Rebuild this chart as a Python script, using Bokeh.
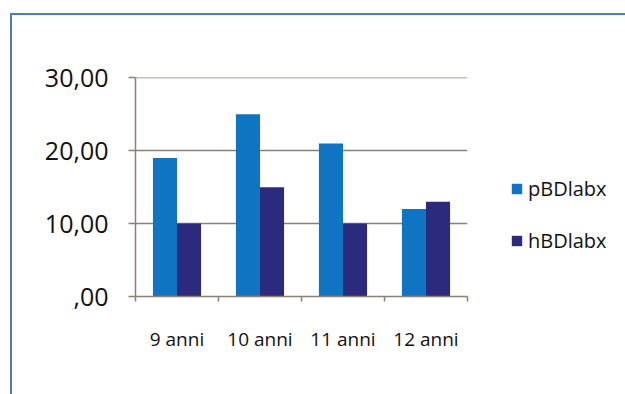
from bokeh.plotting import figure
from bokeh.layouts import row
from bokeh.models import Range1d, FixedTicker, Legend, LegendItem
from bokeh.embed import file_html
from bokeh.resources import INLINE

categories = ["9 anni", "10 anni", "11 anni", "12 anni"]
series_names = ["pBDlabx", "hBDlabx"]
pBDlabx = [19, 25, 21, 12]
hBDlabx = [10, 15, 10, 13]
y_ticks = [0, 10, 20, 30]
y_tick_labels = [",00", "10,00", "20,00", "30,00"]

FONT = "Open Sans"
GRID = "#8c7f78"
C1 = "#0f74c2"
C2 = "#2c2a7c"
TXT = "#111111"

p = figure(width=460, height=379, output_backend="svg", toolbar_location=None,
           x_range=Range1d(0, len(categories)), y_range=Range1d(0, 30.05),
           min_border_left=123, min_border_right=5, min_border_top=62, min_border_bottom=98)
p.outline_line_color = None
p.border_fill_color = "white"

centers = [i + 0.5 for i in range(len(categories))]
bw = 0.29
p.vbar(x=[c - bw / 2 for c in centers], top=pBDlabx, width=bw, fill_color=C1, line_color=None)
p.vbar(x=[c + bw / 2 for c in centers], top=hBDlabx, width=bw, fill_color=C2, line_color=None)

# x axis
xa = p.xaxis[0]
xa.ticker = FixedTicker(ticks=centers, minor_ticks=list(range(len(categories) + 1)))
xa.major_label_overrides = {c: lab for c, lab in zip(centers, categories)}
xa.major_tick_line_color = None
xa.minor_tick_line_color = GRID
xa.minor_tick_line_width = 1.5
xa.minor_tick_out = 5
xa.minor_tick_in = 0
xa.axis_line_color = GRID
xa.axis_line_width = 1.5
xa.major_label_text_font = FONT
xa.major_label_text_font_size = "19px"
xa.major_label_text_color = TXT
xa.major_label_standoff = 23

# y axis
ya = p.yaxis[0]
ya.ticker = FixedTicker(ticks=y_ticks)
ya.major_label_overrides = {t: lab for t, lab in zip(y_ticks, y_tick_labels)}
ya.major_tick_line_color = GRID
ya.major_tick_line_width = 1.5
ya.major_tick_out = 7
ya.major_tick_in = 0
ya.minor_tick_line_color = None
ya.axis_line_color = GRID
ya.axis_line_width = 1.5
ya.major_label_text_font = FONT
ya.major_label_text_font_size = "25px"
ya.major_label_text_color = TXT
ya.major_label_standoff = 20

p.xgrid.grid_line_color = None
p.ygrid.grid_line_color = GRID
p.ygrid.grid_line_width = 1.5

# legend panel (its frame is aligned with the chart's frame by the row layout)
pl = figure(width=153, height=379, output_backend="svg", toolbar_location=None,
            x_range=Range1d(0, 1), y_range=Range1d(0, 1),
            x_axis_type=None, y_axis_type=None,
            min_border_left=0, min_border_right=0, min_border_top=0, min_border_bottom=0)
pl.outline_line_color = None
pl.grid.grid_line_color = None
pl.border_fill_color = "white"
l1 = pl.vbar(x=[0.5], top=[0], bottom=[0], width=0.1, fill_color=C1, line_color=None)
l2 = pl.vbar(x=[0.5], top=[0], bottom=[0], width=0.1, fill_color=C2, line_color=None)

legend = Legend(items=[LegendItem(label=series_names[0], renderers=[l1]),
                       LegendItem(label=series_names[1], renderers=[l2])],
                location=(38, 42), orientation="vertical")
legend.border_line_color = None
legend.background_fill_alpha = 0
legend.padding = 0
legend.margin = 0
legend.spacing = 25
legend.glyph_width = 13
legend.glyph_height = 13
legend.label_height = 20
legend.label_standoff = 5
legend.label_text_font = FONT
legend.label_text_font_size = "20px"
legend.label_text_color = TXT
pl.add_layout(legend, "center")

layout = row(p, pl, spacing=0)
layout.styles = {"margin-left": "10px", "margin-top": "13px",
                 "border-left": "2px solid #4a7ebb", "border-top": "2px solid #4a7ebb"}

open("out.html", "w").write(file_html(layout, INLINE))
